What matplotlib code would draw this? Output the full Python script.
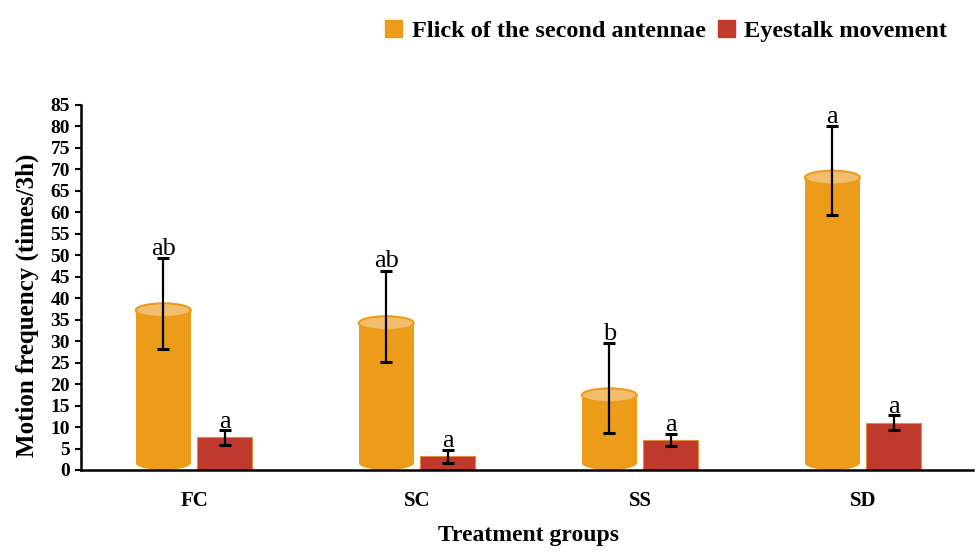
import matplotlib.pyplot as plt
from matplotlib.patches import Ellipse
import numpy as np

groups = ['FC', 'SC', 'SS', 'SD']
flick = [38.8, 35.8, 19.0, 69.7]
flick_err = [10.6, 10.6, 10.5, 10.4]
flick_sig = ['ab', 'ab', 'b', 'a']
eye = [7.6, 3.2, 7.0, 11.0]
eye_err = [1.7, 1.5, 1.4, 1.7]
eye_sig = ['a', 'a', 'a', 'a']

ORANGE = '#ED9C19'
TOP = '#F2BE6E'
RED = '#BF3A2C'

plt.rcParams['font.family'] = ['Liberation Serif', 'DejaVu Serif']

fig = plt.figure(figsize=(9.76, 5.52), dpi=100)
ax = fig.add_axes([0.083, 0.1486, 0.914, 0.6612])

x = np.arange(len(groups))
w = 0.247
off = 0.138
eh = 3.2  # ellipse height in data units

# cylinders for the antennae flicks
for xi, v in zip(x - off, flick):
    ax.bar(xi, v - eh, w, bottom=eh / 2, color=ORANGE, edgecolor='none', zorder=2)
    ax.add_patch(Ellipse((xi, eh / 2), w, eh, facecolor=ORANGE, edgecolor='none', zorder=2))
    ax.add_patch(Ellipse((xi, v - eh / 2), w, eh, facecolor=TOP, edgecolor=ORANGE, lw=1.5, zorder=3))
ax.bar(x + off, eye, w, color=RED, edgecolor='#E58A3A', linewidth=0.8, zorder=2)

ax.errorbar(x - off, flick, yerr=flick_err, fmt='none', ecolor='black', elinewidth=1.6, capsize=4.5, capthick=2.2, zorder=4)
ax.errorbar(x + off, eye, yerr=eye_err, fmt='none', ecolor='black', elinewidth=1.6, capsize=4.5, capthick=2.2, zorder=4)

for xi, v, e, s in zip(x - off, flick, flick_err, flick_sig):
    ax.text(xi, v + e - 0.4, s, ha='center', va='bottom', fontsize=19, zorder=5)
for xi, v, e, s in zip(x + off, eye, eye_err, eye_sig):
    ax.text(xi, v + e - 0.6, s, ha='center', va='bottom', fontsize=19, zorder=5)

# legend handles
h1 = plt.Rectangle((0, 0), 1, 1, color=ORANGE)
h2 = plt.Rectangle((0, 0), 1, 1, color=RED)
fig.legend([h1, h2], ['Flick of the second antennae', 'Eyestalk movement'],
           loc='upper right', bbox_to_anchor=(0.988, 0.995), ncol=2, frameon=False,
           prop={'weight': 'bold', 'size': 17.5}, handlelength=0.7, handleheight=0.7,
           handletextpad=0.4, columnspacing=0.5, borderpad=0.2)

ax.set_xlim(-0.507, 3.493)
ax.set_ylim(0, 85)
ax.set_yticks(np.arange(0, 86, 5))
ax.set_xticks(x)
ax.set_xticklabels(groups, fontweight='bold', fontsize=15)
ax.tick_params(axis='x', length=0, pad=15)
ax.tick_params(axis='y', length=4.5, width=1.5, labelsize=14, pad=3.5)
for t in ax.get_yticklabels():
    t.set_fontweight('bold')
ax.spines['top'].set_visible(False)
ax.spines['right'].set_visible(False)
ax.spines['left'].set_linewidth(1.8)
ax.spines['bottom'].set_linewidth(1.8)
ax.set_ylabel('Motion frequency (times/3h)', fontweight='bold', fontsize=18)
ax.yaxis.set_label_coords(-0.047, 0.45)
ax.set_xlabel('Treatment groups', fontweight='bold', fontsize=17)
ax.xaxis.set_label_coords(0.502, -0.15)

fig.savefig('out.png', dpi=100)
